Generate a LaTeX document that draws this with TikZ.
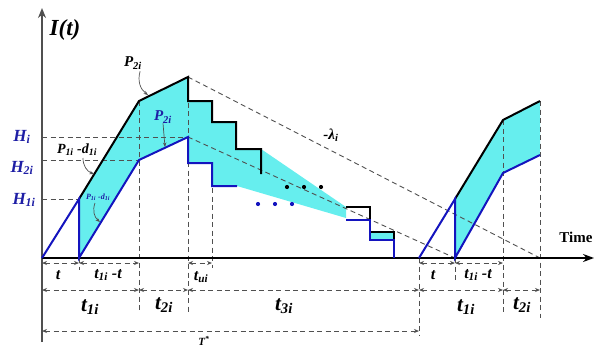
\documentclass[tikz,border=0pt]{standalone}
\usepackage{fontspec}
\setmainfont{Liberation Serif}
\usetikzlibrary{arrows.meta}
\definecolor{cyanf}{RGB}{102,238,238}
\definecolor{lblue}{RGB}{20,20,190}
\definecolor{tblue}{RGB}{30,30,165}
\definecolor{dgray}{RGB}{80,80,80}
\newcommand\fsz[1]{\fontsize{#1}{#1}\selectfont}
\begin{document}
\begin{tikzpicture}[x=1pt,y=-1pt,
  blk/.style={line width=2pt,black},
  blu/.style={line width=2pt,lblue},
  gd/.style={dgray,line width=0.9pt,dash pattern=on 5pt off 3.5pt},
  dimarr/.style={gd,{Stealth[length=5pt,width=4pt]}-{Stealth[length=5pt,width=4pt]}},
  cf/.style={fill=cyanf,draw=none},
  lab/.style={font=\bfseries\itshape,inner sep=0pt},
  ptr/.style={line width=0.7pt,dgray,-{Stealth[length=4.5pt,width=3.5pt]}},
]
\useasboundingbox (0,0) rectangle (597,351);
% key coordinates
\coordinate (O) at (42,258);
\coordinate (A1) at (79,199);
\coordinate (A0) at (79,258);
\coordinate (K) at (139,101);
\coordinate (Pk) at (188,77);
\coordinate (BK) at (139,160);
\coordinate (BP) at (188,137);
\coordinate (R0) at (419,258);
\coordinate (RA1) at (455,199);
\coordinate (RA0) at (455,258);
\coordinate (RK) at (503,120);
\coordinate (RP) at (540,101);
\coordinate (RBK) at (503,173);
\coordinate (RBP) at (540,155);
% fills
\fill[cf] (A0) -- (BK) -- (BP) -- (188,163) -- (212,163) -- (212,186) -- (237,186)
  -- (346,218) -- (346,207) -- (261,149) -- (236,149) -- (236,122) -- (212,122)
  -- (212,101) -- (188,101) -- (Pk) -- (K) -- (A1) -- cycle;
\fill[cf] (370,232) rectangle (394,240);
\fill[cf] (RA0) -- (RBK) -- (RBP) -- (RP) -- (RK) -- (RA1) -- cycle;
% dashed guides
\draw[gd] (42,137) -- (BP);
\draw[gd] (42,160) -- (BK);
\draw[gd] (42,199) -- (A1);
\draw[gd] (Pk) -- (540,258);
\draw[gd] (BP) -- (RA0);
\draw[gd] (K) -- (139,313);
\draw[gd] (Pk) -- (188,313);
\draw[gd] (212,188) -- (212,268);
\draw[gd] (A0) -- (79,270);
\draw[gd] (R0) -- (419,336);
\draw[gd] (RA0) -- (455,280);
\draw[gd] (RK) -- (503,315);
\draw[gd] (RP) -- (540,318);
% axes
\draw[dgray,line width=2.2pt,-{Stealth[length=10pt,width=8pt]}] (42,342) -- (42,8);
\draw[black,line width=1.8pt,-{Stealth[length=11pt,width=8pt]}] (O) -- (594,258);
% black curves
\draw[blk] (A1) -- (K) -- (Pk) -- (188,101) -- (212,101) -- (212,122) -- (236,122)
  -- (236,149) -- (261,149) -- (261,174);
\draw[blk] (346,207) -- (370,207) -- (370,232) -- (394,232) -- (394,240);
\draw[blk] (RA1) -- (RK) -- (RP);
% blue curves
\draw[blu] (O) -- (A1) -- (A0) -- (BK) -- (BP) -- (188,163) -- (212,163) -- (212,186) -- (237,186);
\draw[blu] (346,220) -- (370,220) -- (370,240) -- (394,240) -- (394,258);
\draw[blu] (R0) -- (RA1) -- (RA0) -- (RBK) -- (RBP);
% dots
\foreach \x in {287,304,321} \fill[black] (\x,187) circle (2.1pt);
\foreach \x in {258,275,292} \fill[lblue] (\x,204) circle (2.1pt);
% dimension arrows
\draw[dimarr] (42,263) -- (79,263);
\draw[dimarr] (79,263) -- (139,263);
\draw[dimarr] (188,263) -- (212,263);
\draw[dimarr] (419,263) -- (455,263);
\draw[dimarr] (455,263) -- (503,263);
\draw[dimarr] (42,290) -- (139,290);
\draw[dimarr] (139,290) -- (188,290);
\draw[dimarr] (188,290) -- (419,290);
\draw[dimarr] (419,290) -- (503,290);
\draw[dimarr] (503,290) -- (540,290);
\draw[dimarr] (42,331) -- (419,331);
% labels
\node[lab] (It) at (65,30) {\fsz{23}I(t)};
\node[font=\bfseries,inner sep=0pt] (time) at (576,237) {\fsz{15}Time};
\node[lab,tblue] (Hi) at (22,137) {\fsz{17}H\textsubscript{i}};
\node[lab,tblue] (H2) at (22,168) {\fsz{17}H\textsubscript{2i}};
\node[lab,tblue] (H1) at (24,200) {\fsz{17}H\textsubscript{1i}};
\node[lab] (lam) at (331,135) {\fsz{15}-λ\textsubscript{i}};
\node[lab] (P2a) at (133,63) {\fsz{15}P\textsubscript{2i}};
\node[lab,tblue] (P2b) at (163,117) {\fsz{15}P\textsubscript{2i}};
\node[lab] (P1a) at (77,150) {\fsz{14}P\textsubscript{1i} -d\textsubscript{1i}};
\node[lab,tblue] (P1b) at (98,197) {\fsz{8}P\textsubscript{1i} -d\textsubscript{1i}};
\draw[ptr] (P2a.south east) ++(-2,2) coordinate (p2s) to[bend right=35] (148,95);
\draw[ptr] (P2b.south) -- (165,147);
\draw[ptr] (83,158) to[bend right=35] (94,174);
\draw[ptr] (95,203) to[bend right=35] (100,222);
\node[lab] (l1) at (58,275) {\fsz{16}t};
\node[lab] (l2) at (108,275) {\fsz{16}t\textsubscript{1i} -t};
\node[lab] (l3) at (201,277) {\fsz{16}t\textsubscript{ui}};
\node[lab] (l4) at (90,307) {\fsz{21}t\textsubscript{1i}};
\node[lab] (l5) at (164,305) {\fsz{21}t\textsubscript{2i}};
\node[lab] (l6) at (284,306) {\fsz{21}t\textsubscript{3i}};
\node[lab] (l7) at (204,341) {\fsz{11}T\textsuperscript{*}};
\node[lab] (r1) at (433,275) {\fsz{16}t};
\node[lab] (r2) at (478,275) {\fsz{16}t\textsubscript{1i} -t};
\node[lab] (r3) at (466,307) {\fsz{21}t\textsubscript{1i}};
\node[lab] (r4) at (522,305) {\fsz{21}t\textsubscript{2i}};
\end{tikzpicture}
\end{document}
